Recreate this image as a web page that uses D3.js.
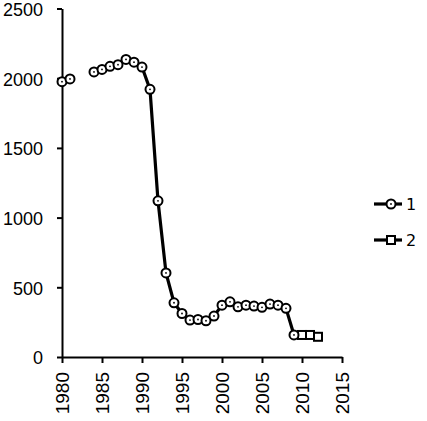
<!DOCTYPE html>
<html>
<head>
<meta charset="utf-8">
<script src="https://cdn.jsdelivr.net/npm/d3@7"></script>
<style>
  body { margin: 0; background: #fff; }
  svg { display: block; font-family: "DejaVu Sans", sans-serif; }
</style>
</head>
<body>
<svg id="chart"></svg>
<script>
// series 1 (with a gap in 1982-83), series 2 the last few years
const years1 = [1980, 1981, 1982, 1983, 1984, 1985, 1986, 1987, 1988, 1989, 1990,
  1991, 1992, 1993, 1994, 1995, 1996, 1997, 1998, 1999, 2000,
  2001, 2002, 2003, 2004, 2005, 2006, 2007, 2008, 2009];
const values1 = [1975, 1995, null, null, 2045, 2063, 2085, 2097, 2135, 2115, 2080,
  1920, 1120, 603, 389, 312, 265, 269, 260, 294, 372,
  396, 360, 372, 365, 356, 380, 372, 349, 158];
const years2 = [2009, 2010, 2011, 2012];
const values2 = [158, 158, 158, 145];
const xTicks = [1980, 1985, 1990, 1995, 2000, 2005, 2010, 2015];
const yTicks = [0, 500, 1000, 1500, 2000, 2500];
const seriesNames = ['1', '2'];

const width = 427;
const height = 421;
const svg = d3.select('#chart').attr('width', width).attr('height', height);

const x = d3.scaleLinear().domain([1980, 2015]).range([62, 342]);
const y = d3.scaleLinear().domain([0, 2500]).range([357, 8.5]);

// axes
const xAxis = svg.append('g')
  .attr('transform', `translate(0, ${y(0)})`)
  .call(d3.axisBottom(x).tickValues(xTicks).tickFormat(d3.format('d')).tickSize(6).tickSizeOuter(0));
xAxis.selectAll('text')
  .attr('transform', 'rotate(-90)')
  .attr('text-anchor', 'end')
  .attr('x', -15)
  .attr('y', 0)
  .attr('dy', '0.36em')
  .attr('font-size', 19);

const yAxis = svg.append('g')
  .attr('transform', `translate(${x(1980)}, 0)`)
  .call(d3.axisLeft(y).tickValues(yTicks).tickFormat(d3.format('d')).tickSize(5).tickSizeOuter(0));
yAxis.selectAll('text')
  .attr('x', -19)
  .attr('dy', '0.38em')
  .attr('font-size', 18);

svg.selectAll('.domain, .tick line')
  .attr('stroke', '#000')
  .attr('stroke-width', 2);
svg.selectAll('.tick text').attr('fill', '#000');

// lines
const data1 = years1.map((d, i) => ({ year: d, value: values1[i] }));
const data2 = years2.map((d, i) => ({ year: d, value: values2[i] }));

const line = d3.line()
  .defined(d => d.value !== null)
  .x(d => x(d.year))
  .y(d => y(d.value));

[data2, data1].forEach(data => {
  svg.append('path')
    .datum(data)
    .attr('fill', 'none')
    .attr('stroke', '#000')
    .attr('stroke-width', 3.2)
    .attr('stroke-linejoin', 'round')
    .attr('d', line);
});

// series 2 markers (squares)
svg.append('g').selectAll('rect')
  .data(data2.slice(1))
  .join('rect')
  .attr('x', d => x(d.year) - 4)
  .attr('y', d => y(d.value) - 4)
  .attr('width', 8)
  .attr('height', 8)
  .attr('fill', '#fff')
  .attr('stroke', '#000')
  .attr('stroke-width', 2);

// series 1 markers (circles with a dot)
const pts1 = data1.filter(d => d.value !== null);
const m1 = svg.append('g').selectAll('g')
  .data(pts1)
  .join('g')
  .attr('transform', d => `translate(${x(d.year)}, ${y(d.value)})`);
m1.append('circle')
  .attr('r', 4.5)
  .attr('fill', '#fff')
  .attr('stroke', '#000')
  .attr('stroke-width', 2);
m1.append('circle')
  .attr('r', 0.9)
  .attr('fill', '#000');

// legend
const legend = svg.append('g');
seriesNames.forEach((name, i) => {
  const ly = 204 + i * 36;
  const row = legend.append('g').attr('transform', `translate(0, ${ly})`);
  row.append('line')
    .attr('x1', 374).attr('x2', 402)
    .attr('stroke', '#000').attr('stroke-width', 3.2);
  if (i === 0) {
    row.append('circle').attr('cx', 391).attr('r', 4.5)
      .attr('fill', '#fff').attr('stroke', '#000').attr('stroke-width', 2);
    row.append('circle').attr('cx', 391).attr('r', 0.9).attr('fill', '#000');
  } else {
    row.append('rect').attr('x', 387).attr('y', -4).attr('width', 8).attr('height', 8)
      .attr('fill', '#fff').attr('stroke', '#000').attr('stroke-width', 2);
  }
  row.append('text')
    .attr('x', 406)
    .attr('dy', '0.36em')
    .attr('font-size', 16)
    .text(name);
});
</script>
</body>
</html>
